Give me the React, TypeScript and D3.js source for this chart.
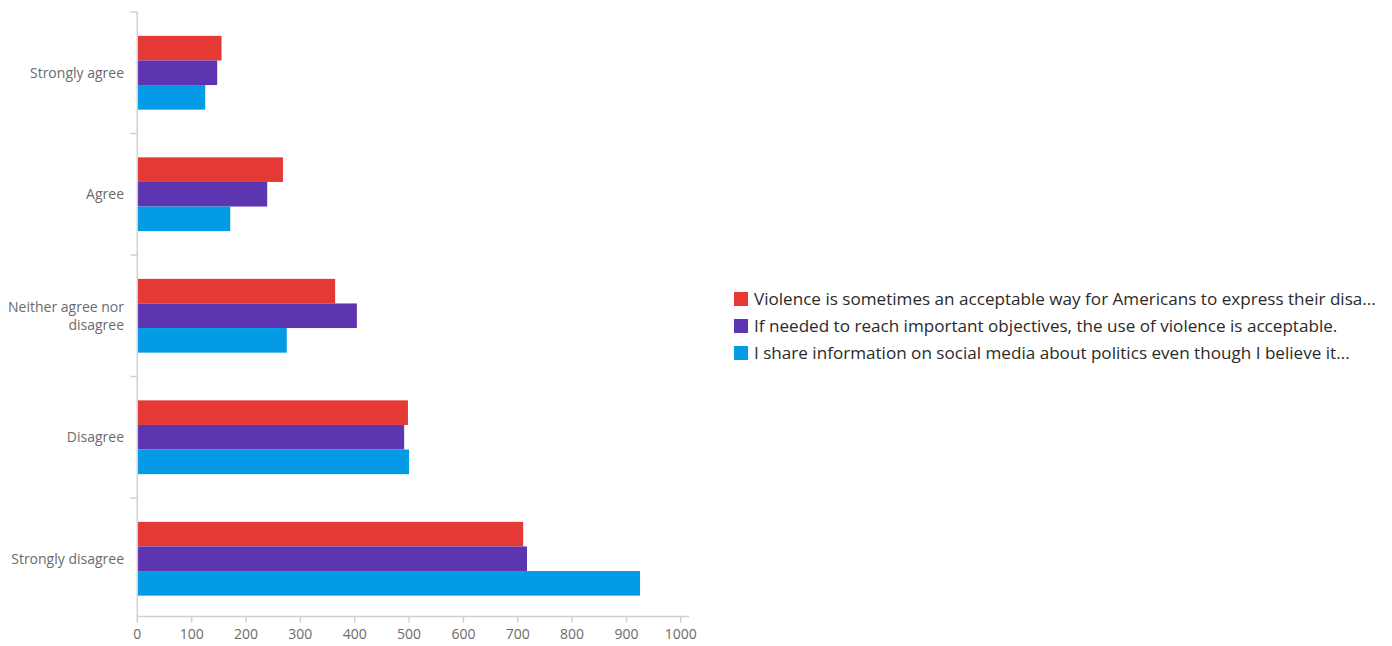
import React from "react";
import * as d3 from "d3";

const categories = ["Strongly agree", "Agree", "Neither agree nor disagree", "Disagree", "Strongly disagree"];
const seriesNames = [
  "Violence is sometimes an acceptable way for Americans to express their disa...",
  "If needed to reach important objectives, the use of violence is acceptable.",
  "I share information on social media about politics even though I believe it...",
];
const seriesColors = ["#E53935", "#5E35B1", "#039BE5"];
const violenceValues = [155, 268, 364, 498, 710];
const objectivesValues = [147, 239, 404, 491, 717];
const socialValues = [125, 171, 275, 500, 925];
const xTicks = [0, 100, 200, 300, 400, 500, 600, 700, 800, 900, 1000];

const series = [violenceValues, objectivesValues, socialValues];

const W = 1392;
const H = 646;
const left = 137.3;
const top = 12;
const bandBottom = 619.5;
const axisY = 616.5;

export default function App() {
  const x = d3.scaleLinear().domain([0, 1000]).range([left, 680.8]);
  const y = d3.scaleBand<string>().domain(categories).range([top, bandBottom]).paddingInner(0).paddingOuter(0);
  const inner = d3.scaleBand<number>().domain([0, 1, 2]).range([0, y.bandwidth()]).paddingOuter(0.97).paddingInner(0);
  const axisColor = "#d0d0d0";
  const labelColor = "#6b6b6b";
  const font = "'Open Sans', sans-serif";

  const boundaries = categories.map((c) => y(c) as number);

  return (
    <svg width={W} height={H} style={{ position: "absolute", left: 0, top: 0, background: "#fff" }} fontFamily={font}>
      {categories.map((c, ci) => (
        <g key={c}>
          {series.map((vals, si) => (
            <rect
              key={si}
              x={x(0)}
              y={(y(c) as number) + (inner(si) as number)}
              width={x(vals[ci]) - x(0)}
              height={inner.bandwidth()}
              fill={seriesColors[si]}
            />
          ))}
        </g>
      ))}
      <line x1={left} x2={left} y1={top} y2={axisY} stroke={axisColor} strokeWidth={1.5} />
      {boundaries.map((b, i) => (
        <line key={i} x1={left - 7} x2={left} y1={b} y2={b} stroke={axisColor} strokeWidth={1.5} />
      ))}
      {categories.map((c) => {
        const cy = (y(c) as number) + y.bandwidth() / 2;
        if (c === "Neither agree nor disagree") {
          return (
            <text key={c} x={124} y={cy} textAnchor="end" fontSize={14} fill={labelColor}>
              <tspan x={124} dy={-4}>Neither agree nor</tspan>
              <tspan x={124} dy={18}>disagree</tspan>
            </text>
          );
        }
        return (
          <text key={c} x={124} y={cy + 5} textAnchor="end" fontSize={14} fill={labelColor}>
            {c}
          </text>
        );
      })}
      <line x1={left} x2={689} y1={axisY} y2={axisY} stroke={axisColor} strokeWidth={1.5} />
      {xTicks.map((t) => (
        <g key={t}>
          <line x1={x(t)} x2={x(t)} y1={axisY} y2={axisY + 6} stroke={axisColor} strokeWidth={1.5} />
          <text x={x(t)} y={639} textAnchor="middle" fontSize={14} fill={labelColor}>
            {t}
          </text>
        </g>
      ))}
      {seriesNames.map((n, i) => (
        <g key={n} transform={`translate(734, ${292 + i * 27})`}>
          <rect x={0} y={0} width={14} height={14} fill={seriesColors[i]} />
          <text x={20} y={13} fontSize={17.1} fill="#2a2a2a">
            {n}
          </text>
        </g>
      ))}
    </svg>
  );
}
